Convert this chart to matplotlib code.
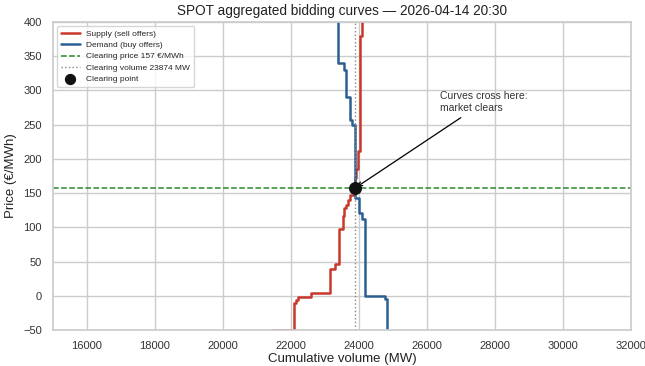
import matplotlib
matplotlib.use("Agg")
import matplotlib.pyplot as plt
import seaborn as sns

sns.set_theme(style="whitegrid")
plt.rcParams['font.family'] = ['Liberation Sans', 'DejaVu Sans']

# Supply (sell offers): cumulative volume breakpoints (MW) and price of the following step (EUR/MWh)
supply_vol = [21460, 22090, 22140, 22200, 22600, 23160, 23290, 23420, 23520, 23560, 23610, 23680, 23750, 23874, 23930, 23980, 24020, 24080, 24200]
supply_price = [-50, -10, -6, -1, 4, 39, 47, 97, 116, 128, 133, 140, 148, 172, 185, 211, 379, 420, 420]

# Demand (buy offers)
demand_vol = [23000, 23400, 23560, 23610, 23750, 23790, 23874, 24000, 24080, 24170, 24780, 24820, 25000]
demand_price = [450, 340, 330, 291, 257, 249, 143, 121, 113, 0, -4, -60, -60]

clearing_price = 157
clearing_volume = 23874

title = "SPOT aggregated bidding curves \u2014 2026-04-14 20:30"

fig = plt.figure(figsize=(6.45, 3.66), dpi=100)
ax = fig.add_axes([0.082, 0.098, 0.896, 0.842])

ax.step(supply_vol, supply_price, where='post', color='#c8382c', lw=1.8, label='Supply (sell offers)')
ax.step(demand_vol, demand_price, where='post', color='#2b5f91', lw=1.8, label='Demand (buy offers)')
ax.axhline(clearing_price, color='#2a8a2a', ls='--', lw=1.1, label=f'Clearing price {clearing_price} \u20ac/MWh')
ax.axvline(clearing_volume, color='#888888', ls=':', lw=1.0, label=f'Clearing volume {clearing_volume} MW')
ax.scatter([clearing_volume], [clearing_price], s=70, color='#111111', zorder=5, label='Clearing point')

ax.annotate("Curves cross here:\nmarket clears", xy=(clearing_volume, clearing_price),
            xytext=(26400, 283), ha='left', va='center', fontsize=7.5, color='#333333',
            arrowprops=dict(arrowstyle='->', color='black', lw=0.9))

ax.set_xlim(15000, 32000)
ax.set_ylim(-50, 400)
ax.set_xticks(range(16000, 32001, 2000))
ax.set_yticks(range(-50, 401, 50))
ax.tick_params(labelsize=8, colors='#333333', pad=2)
ax.set_xlabel("Cumulative volume (MW)", fontsize=9.5, labelpad=1, color='#222222')
ax.set_ylabel("Price (\u20ac/MWh)", fontsize=9.5, labelpad=4, color='#222222')
ax.set_title(title, fontsize=9.8, pad=5, color='#222222')
ax.legend(loc='upper left', fontsize=6, frameon=True, borderpad=0.5, handlelength=2.2,
          labelspacing=0.4, markerscale=0.85)

fig.savefig("out.png", dpi=100)
